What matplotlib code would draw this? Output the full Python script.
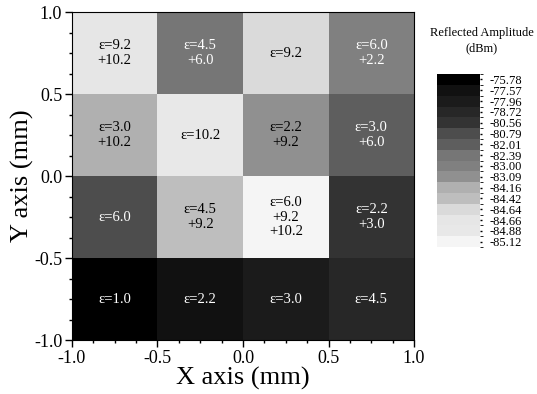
import numpy as np
import matplotlib
matplotlib.use("Agg")
import matplotlib.pyplot as plt
from matplotlib.colors import ListedColormap, BoundaryNorm
from matplotlib.ticker import MultipleLocator

plt.rcParams['font.family'] = ['Liberation Serif', 'DejaVu Serif']

# colour bar levels (dBm) and their grey shades
levels = [-75.78, -77.57, -77.96, -78.72, -80.56, -80.79, -82.01, -82.39,
          -83.00, -83.09, -84.16, -84.42, -84.64, -84.66, -84.88, -85.12]
greys = ['#000000', '#111111', '#1b1b1b', '#272727', '#333333', '#4d4d4d',
         '#5e5e5e', '#767676', '#808080', '#909090', '#b0b0b0', '#bebebe',
         '#dadada', '#e6e6e6', '#e8e8e8', '#f5f5f5']

x_edges = [-1.0, -0.5, 0.0, 0.5, 1.0]
y_edges = [-1.0, -0.5, 0.0, 0.5, 1.0]

# rows from bottom (y=-1) to top (y=1)
amplitude = [
    [-75.78, -77.57, -77.96, -78.72],
    [-80.79, -84.42, -85.12, -80.56],
    [-84.16, -84.88, -83.09, -82.01],
    [-84.66, -82.39, -84.64, -83.00],
]
cell_text = [
    ["ε=1.0", "ε=2.2", "ε=3.0", "ε=4.5"],
    ["ε=6.0", "ε=4.5\n+9.2", "ε=6.0\n+9.2\n+10.2", "ε=2.2\n+3.0"],
    ["ε=3.0\n+10.2", "ε=10.2", "ε=2.2\n+9.2", "ε=3.0\n+6.0"],
    ["ε=9.2\n+10.2", "ε=4.5\n+6.0", "ε=9.2", "ε=6.0\n+2.2"],
]

idx = np.array([[levels.index(v) for v in row] for row in amplitude])
cmap = ListedColormap(greys)
norm = BoundaryNorm(np.arange(len(levels) + 1) - 0.5, len(levels))

fig = plt.figure(figsize=(5.37, 3.94), dpi=100)
ax = fig.add_axes([0.134, 0.137, 0.637, 0.8325])
mesh = ax.pcolormesh(x_edges, y_edges, idx, cmap=cmap, norm=norm)

xc = [(x_edges[i] + x_edges[i + 1]) / 2 for i in range(4)]
yc = [(y_edges[i] + y_edges[i + 1]) / 2 for i in range(4)]
for r in range(4):
    for c in range(4):
        col = 'white' if idx[r, c] <= 8 else 'black'
        ax.text(xc[c], yc[r], cell_text[r][c], ha='center', va='center',
                fontsize=10.5, color=col, linespacing=1.15)

ax.set_xlim(-1, 1)
ax.set_ylim(-1, 1)
ax.xaxis.set_major_locator(MultipleLocator(0.5))
ax.yaxis.set_major_locator(MultipleLocator(0.5))
ax.xaxis.set_minor_locator(MultipleLocator(0.125))
ax.yaxis.set_minor_locator(MultipleLocator(0.125))
ax.xaxis.set_major_formatter(plt.FormatStrFormatter('%.1f'))
ax.yaxis.set_major_formatter(plt.FormatStrFormatter('%.1f'))
ax.tick_params(which='major', direction='out', length=5, width=1, labelsize=13,
               pad=2)
ax.tick_params(which='minor', direction='out', length=2.5, width=1)
ax.set_xlabel("X axis (mm)", fontsize=19, labelpad=0)
ax.set_ylabel("Y axis (mm)", fontsize=19, labelpad=0)

cax = fig.add_axes([0.814, 0.373, 0.080, 0.439])
cb = fig.colorbar(mesh, cax=cax, ticks=np.arange(len(levels)))
cb.ax.set_yticklabels(["%.2f" % v for v in levels])
cb.ax.invert_yaxis()
cb.outline.set_visible(False)
cb.ax.tick_params(length=1.5, width=1, labelsize=9, pad=5)
fig.text(0.897, 0.897, "Reflected Amplitude\n(dBm)", ha='center', va='center',
         fontsize=9, linespacing=1.3)

fig.savefig("out.png", dpi=100)
